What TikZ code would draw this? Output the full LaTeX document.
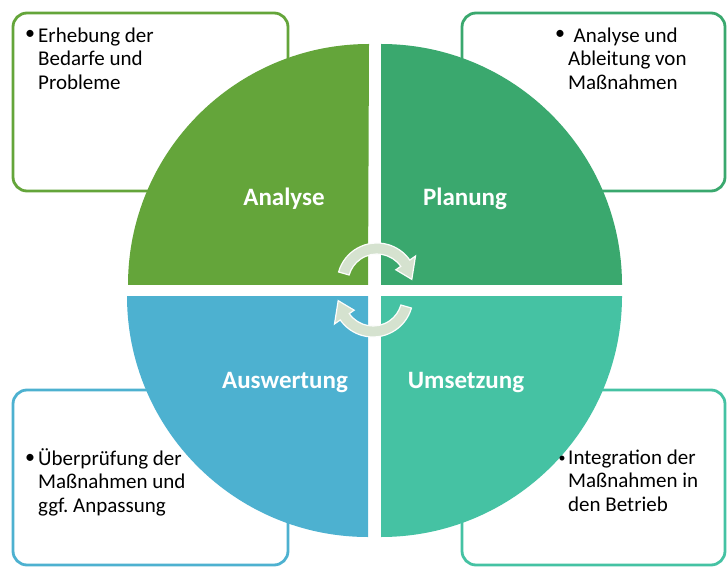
\documentclass[tikz,border=0pt]{standalone}
\usepackage{fontspec}
\setmainfont{Carlito}
\frenchspacing
\definecolor{cA}{HTML}{64A53A}
\definecolor{cP}{HTML}{3AA86E}
\definecolor{cW}{HTML}{4DB1D0}
\definecolor{cU}{HTML}{45C2A3}
\definecolor{cArrow}{HTML}{D5E2CF}
\newcommand{\fstrut}{\rule{0pt}{16pt}}
\begin{document}
\begin{tikzpicture}[x=1pt,y=1pt,
  infobox/.style={rounded corners=14pt, line width=2.8pt, fill=white},
  phase/.style={font=\fontsize{25}{30}\selectfont\bfseries, text=white, inner sep=0pt, anchor=base},
  bodytext/.style={font=\fontsize{21}{23.5}\selectfont, align=left, inner sep=0pt, anchor=north west},
  bullet/.style={font=\fontsize{20}{23.3}\selectfont, inner sep=0pt},
  cyc/.style={fill=cArrow, draw=white!94!cArrow, line width=1.2pt, line join=miter}
]
\useasboundingbox (0,0) rectangle (727,568);
% boxes
\draw[infobox, draw=cA] (13,555) rectangle (288,377);
\draw[infobox, draw=cP] (462,555) rectangle (725,377);
\draw[infobox, draw=cW] (13,178) rectangle (288,3);
\draw[infobox, draw=cU] (462,178) rectangle (725,3);
% quadrants
\fill[cA] (368,283) -- (128,283) arc[start angle=180,end angle=90,radius=241pt] -- cycle;
\fill[cP] (381,283) -- (381,524) arc[start angle=90,end angle=0,radius=241pt] -- cycle;
\fill[cW] (368,272) -- (127,272) arc[start angle=180,end angle=270,radius=241pt] -- cycle;
\fill[cU] (381,272) -- (622,272) arc[start angle=0,end angle=-90,radius=241pt] -- cycle;
% phase labels
\node[phase] (analyse) at (284,362) {Analyse};
\node[phase] (planung) at (465,362) {Planung};
\node[phase] (auswertung) at (285,180) {Auswertung};
\node[phase] (umsetzung) at (466,180) {Umsetzung};
% cycle arrows
\begin{scope}[shift={(377,285)}]
\path[cyc] (164:40pt) arc[start angle=164,end angle=35,radius=40pt] -- (35:47pt) -- (6:35pt) -- (35:23pt) -- (35:29pt) arc[start angle=35,end angle=164,radius=29pt] -- cycle;
\end{scope}
\begin{scope}[rotate around={180:(375,278)}]
\begin{scope}[shift={(377,285)}]
\path[cyc] (164:40pt) arc[start angle=164,end angle=35,radius=40pt] -- (35:47pt) -- (6:35pt) -- (35:23pt) -- (35:29pt) arc[start angle=35,end angle=164,radius=29pt] -- cycle;
\end{scope}
\end{scope}
% box texts
\node[bullet] (b1) at (30,533) {•};
\node[bodytext] (t1) at (38,542) {\fstrut Erhebung der\\Bedarfe und\\Probleme};
\node[bullet] (b2) at (560,533) {•};
\node[bodytext] (t2) at (568,542) {\fstrut\hspace*{5.5pt}Analyse und\\Ableitung von\\Maßnahmen};
\node[bullet] (b3) at (30,109) {•};
\node[bodytext] (t3) at (38,120) {\fstrut Überprüfung der\\Maßnahmen und\\ggf. Anpassung};
\node[bullet, font=\fontsize{14}{16}\selectfont] (b4) at (562,109) {•};
\node[bodytext] (t4) at (568,120) {\fstrut Integration der\\Maßnahmen in\\den Betrieb};
\end{tikzpicture}
\end{document}
